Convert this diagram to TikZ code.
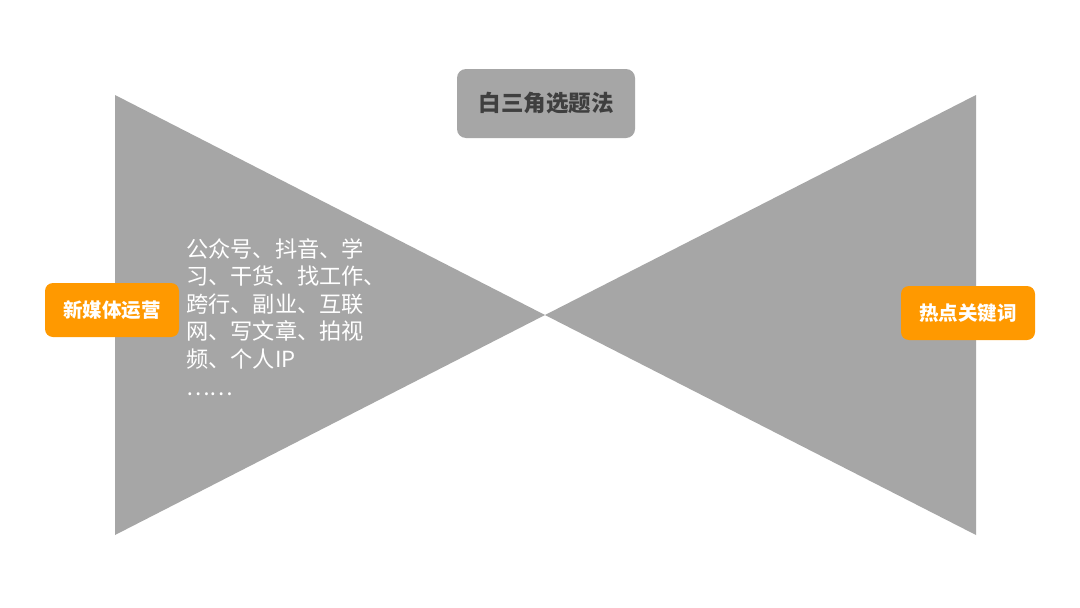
\documentclass[tikz,border=0pt]{standalone}
\usepackage{fontspec}
\newfontfamily\cjk{Noto Sans CJK SC}
\definecolor{tri}{HTML}{A6A6A6}
\definecolor{org}{HTML}{FF9900}
\definecolor{dark}{HTML}{3F3F3F}
\begin{document}
\begin{tikzpicture}[x=1pt,y=-1pt,
  tag/.style={rounded corners=8pt, fill=org, text=white, font=\cjk\bfseries\fontsize{19.5}{22}\selectfont, inner sep=0pt},
  title/.style={rounded corners=9pt, fill=tri, text=dark, font=\cjk\bfseries\fontsize{22.5}{26}\selectfont, inner sep=0pt},
  body/.style={text=white, font=\cjk\fontsize{22.2}{27.6}\selectfont, align=left, anchor=north west, inner sep=0pt}]
\useasboundingbox (0,0) rectangle (1080,608);
\fill[white] (0,0) rectangle (1080,608);
\fill[tri] (115,95) -- (115,535) -- (545,315) -- cycle;
\fill[tri] (976,95) -- (976,535) -- (545,315) -- cycle;
\node[title, minimum width=178pt, minimum height=69pt] (t) at (546,103.5) {白三角选题法};
\node[tag, minimum width=134pt, minimum height=54pt] (l) at (112,310) {新媒体运营};
\node[tag, minimum width=134pt, minimum height=54pt] (r) at (968,313) {热点关键词};
\node[body] (b) at (186,238) {公众号、抖音、学\\习、干货、找工作、\\跨行、副业、互联\\网、写文章、拍视\\频、个人IP\\……};
\end{tikzpicture}
\end{document}
